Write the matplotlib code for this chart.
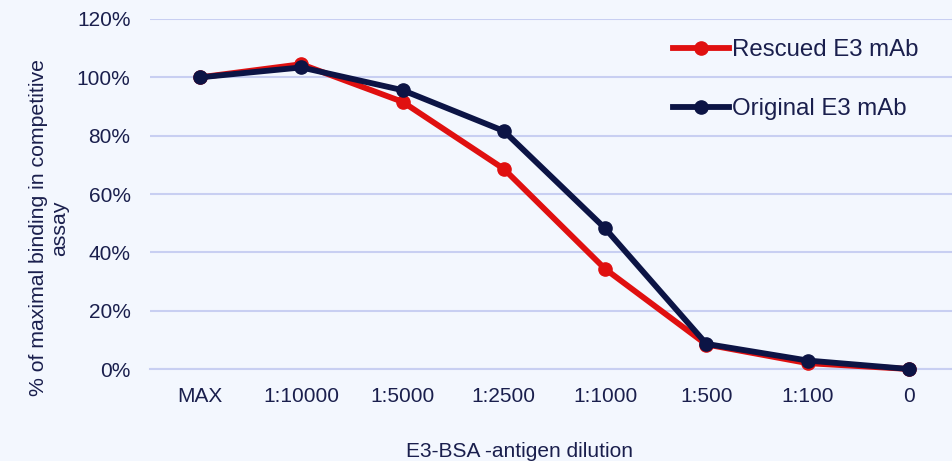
import matplotlib
matplotlib.use("Agg")
import matplotlib.pyplot as plt
from matplotlib.ticker import FuncFormatter

categories = ["MAX", "1:10000", "1:5000", "1:2500", "1:1000", "1:500", "1:100", "0"]
rescued = [100, 104.5, 91.6, 68.6, 34.3, 8.4, 2.0, 0]
original = [100, 103.4, 95.6, 81.6, 48.2, 8.6, 2.9, 0]
yticks = [0, 20, 40, 60, 80, 100, 120]

plt.rcParams['font.family'] = ['Liberation Sans', 'DejaVu Sans']
bg = '#f3f7fe'
txt = '#1a1f4d'
grid_c = '#c8cff2'
red = '#e01010'
navy = '#0c1445'

W, H = 953, 461
fig = plt.figure(figsize=(W / 100, H / 100), dpi=100, facecolor=bg)
ax = fig.add_axes([150 / W, (H - 369) / H, (W - 150) / W, 350 / H])
ax.set_facecolor(bg)

x = list(range(len(categories)))
ax.plot(x, rescued, color=red, lw=4.2, marker='o', ms=9.5, label='Rescued E3 mAb',
        clip_on=False, zorder=3)
ax.plot(x, original, color=navy, lw=4.2, marker='o', ms=9.5, label='Original E3 mAb',
        clip_on=False, zorder=4)

ax.set_ylim(0, 120)
ax.set_yticks(yticks)
ax.yaxis.set_major_formatter(FuncFormatter(lambda v, p: f"{int(v)}%"))
ax.set_xticks(x)
ax.set_xticklabels(categories)
ppu = (909 - 200) / 7
ax.set_xlim(-50 / ppu, (953 - 200) / ppu)

ax.grid(axis='y', color=grid_c, lw=1.5)
ax.set_axisbelow(True)
for s in ['top', 'right', 'left']:
    ax.spines[s].set_visible(False)
ax.spines['bottom'].set_color(grid_c)
ax.spines['bottom'].set_linewidth(1.5)
ax.tick_params(axis='both', length=0, colors=txt, labelsize=15)
ax.tick_params(axis='y', pad=14)
ax.tick_params(axis='x', pad=13)

fig.text(520 / W, 1 - 451 / H, "E3-BSA -antigen dilution", ha='center', va='center',
         fontsize=15, color=txt)
fig.text(49 / W, 1 - 228 / H, "% of maximal binding in competitive\nassay", ha='center',
         va='center', rotation=90, fontsize=15.3, color=txt, linespacing=1.15)

leg = ax.legend(loc='upper left', bbox_to_anchor=(673 / W, 1 - 39 / H),
                bbox_transform=fig.transFigure, frameon=False, fontsize=17.3,
                handlelength=2.35, handletextpad=0.12, labelspacing=1.55,
                borderpad=0, borderaxespad=0)
for t in leg.get_texts():
    t.set_color(txt)

fig.savefig("out.png", dpi=100, facecolor=bg)
